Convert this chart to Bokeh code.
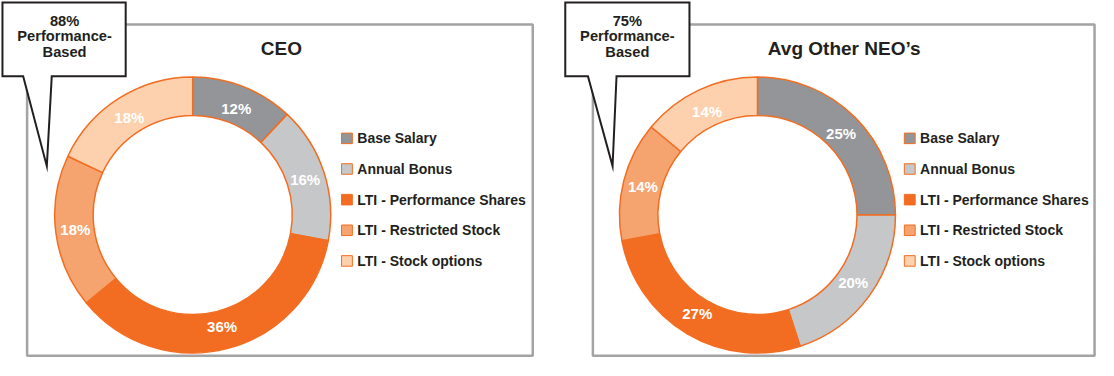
from bokeh.plotting import figure
from bokeh.models import Range1d
from bokeh.embed import file_html
from bokeh.resources import INLINE
from bokeh.core.properties import value
import numpy as np

# ---------------- data ----------------
categories = ["Base Salary", "Annual Bonus", "LTI - Performance Shares",
              "LTI - Restricted Stock", "LTI - Stock options"]
ceo_values = [12, 16, 36, 18, 18]
neo_values = [25, 20, 27, 14, 14]
chart_titles = ["CEO", "Avg Other NEO\u2019s"]
callout_pcts = ["88%", "75%"]
callout_words = ["Performance-", "Based"]
colors = ["#939598", "#c6c7c9", "#f26d21", "#f6a46f", "#fdd1ad"]

ORANGE = "#f26d21"
DARK = "#231f20"
FONT = value("Liberation Sans")
RW, RH = 1114, 376  # reference canvas, mapped onto the figure

p = figure(width=1098, height=360, x_range=Range1d(0, RW), y_range=Range1d(0, RH),
           output_backend="svg", toolbar_location=None, min_border=0,
           x_axis_type=None, y_axis_type=None)
p.grid.visible = False
p.outline_line_color = None
p.background_fill_color = "white"
p.border_fill_color = "white"


def Y(v):
    # reference pixel row -> data y (y axis points up)
    return RH - np.asarray(v, dtype=float)


# ---------------- panels ----------------
panels = [(27, 540), (601, 1110)]
for (x0, x1) in panels:
    p.quad(left=x0, right=x1, top=Y(25), bottom=Y(371), fill_color=None,
           line_color="#a3a3a3", line_width=2.5)

# ---------------- callouts ----------------
callouts = [
    ([2, 127, 127, 52, 47, 23, 2], [2, 2, 79, 79, 173, 79, 79], 65),
    ([573, 699, 699, 625, 621, 596, 573], [2, 2, 79, 79, 173, 79, 79], 636),
]
for i, (xs, ys, cx) in enumerate(callouts):
    p.patch(x=xs, y=Y(ys), fill_color="white", line_color=DARK, line_width=2,
            line_join="miter")
    lines = [callout_pcts[i]] + callout_words
    p.text(x=[cx] * 3, y=Y([21, 37.5, 54]), text=lines, text_align="center",
           text_baseline="middle", text_font=FONT, text_font_style="bold",
           text_font_size="11pt", text_color=DARK)

# ---------------- donuts ----------------
def donut(cx, cy_ref, vals, leg_x):
    cy = RH - cy_ref
    frac = np.array(vals, dtype=float) / sum(vals)
    cum = np.concatenate([[0.0], np.cumsum(frac)])
    start = np.pi / 2 - 2 * np.pi * cum[:-1]
    end = np.pi / 2 - 2 * np.pi * cum[1:]
    p.annular_wedge(x=cx, y=cy, inner_radius=101, outer_radius=140,
                    start_angle=list(start), end_angle=list(end), direction="clock",
                    fill_color=colors, line_color=ORANGE, line_width=1.5)
    mid = (start + end) / 2
    p.text(x=cx + 120 * np.cos(mid), y=cy + 120 * np.sin(mid),
           text=[f"{v}%" for v in vals], text_align="center", text_baseline="middle",
           text_font=FONT, text_font_style="bold", text_font_size="15px",
           text_color="white")
    # legend
    rows = Y([144, 176, 208, 240, 272])
    p.rect(x=leg_x + 5.5, y=rows, width=11, height=11, fill_color=colors,
           line_color=ORANGE, line_width=1)
    p.text(x=leg_x + 16, y=rows, text=categories, text_align="left",
           text_baseline="middle", text_font=FONT, text_font_style="bold",
           text_font_size="14px", text_color=DARK)


donut(195, 224, ceo_values, 346)
donut(768, 224, neo_values, 917)

p.text(x=[285, 856], y=Y([50, 50]), text=chart_titles, text_align="center",
       text_baseline="middle", text_font=FONT, text_font_style="bold",
       text_font_size="19px", text_color=DARK)

open("out.html", "w").write(file_html(p, INLINE))
